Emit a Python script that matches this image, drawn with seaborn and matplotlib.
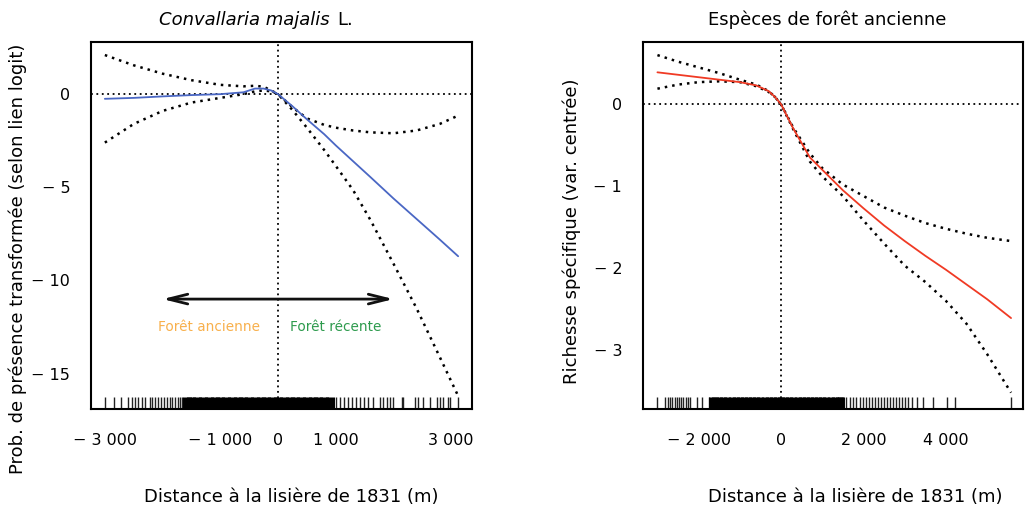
import numpy as np
import pandas as pd
import seaborn as sns
import matplotlib.pyplot as plt

# left panel: Convallaria majalis, smooth effect of distance to the 1831 edge
left_x = [-3000, -2500, -2000, -1500, -1000, -600, -400, -250, -120, 0,
          250, 500, 800, 1000, 1300, 1600, 2000, 2400, 2800, 3120]
left_fit = [-0.25, -0.2, -0.12, -0.05, 0.0, 0.1, 0.3, 0.3, 0.2, 0.0,
            -0.65, -1.35, -2.15, -2.75, -3.6, -4.45, -5.6, -6.7, -7.8, -8.7]
left_upper = [2.1, 1.55, 1.1, 0.75, 0.5, 0.42, 0.45, 0.4, 0.2, 0.0,
              -0.7, -1.3, -1.65, -1.8, -1.95, -2.05, -2.1, -1.95, -1.6, -1.15]
left_lower = [-2.6, -1.6, -0.9, -0.45, -0.2, 0.0, 0.15, 0.2, 0.15, 0.0,
              -0.85, -1.8, -3.0, -3.85, -5.15, -6.75, -9.1, -11.5, -14.1, -16.2]

# right panel: old-forest species richness
right_x = [-3000, -2500, -2000, -1500, -1000, -600, -300, -150, 0, 300, 700,
           1000, 1500, 2000, 2500, 3000, 3500, 4000, 4500, 5000, 5580]
right_fit = [0.39, 0.36, 0.33, 0.3, 0.27, 0.23, 0.16, 0.09, 0.0, -0.3, -0.65,
             -0.8, -1.05, -1.27, -1.48, -1.67, -1.85, -2.02, -2.2, -2.38, -2.61]
right_upper = [0.6, 0.52, 0.45, 0.38, 0.3, 0.24, 0.16, 0.09, 0.0, -0.29, -0.6,
               -0.78, -0.98, -1.12, -1.26, -1.36, -1.45, -1.52, -1.58, -1.63, -1.67]
right_lower = [0.19, 0.24, 0.27, 0.28, 0.27, 0.22, 0.15, 0.09, 0.0, -0.31, -0.7,
               -0.88, -1.12, -1.42, -1.7, -1.97, -2.17, -2.4, -2.68, -3.05, -3.52]

# rug of observed distances (sparse part + dense core)
left_rug = [-3000, -2842, -2721, -2600, -2530, -2478, -2426, -2357, -2305,
            -2218, -2184, -2132, -2080, -2028, -1976, -1924, -1872, -1837,
            -1785, -1733, -1698, -1660, 1005, 1075, 1144, 1213, 1282, 1352,
            1421, 1490, 1560, 1646, 1768, 1820, 1889, 1941, 1993, 2149, 2166,
            2374, 2426, 2513, 2634, 2756, 2808, 2860, 2946, 2981, 3120]
left_rug_core = [-1580, -1500, -1400, -1300, -1200, -1100, -1000, -900, -800,
                 -700, -600, -500, -400, -300, -200, -100, 0, 100, 200, 300,
                 400, 500, 600, 700, 800, 900]
right_rug = [-3010, -2816, -2743, -2694, -2646, -2573, -2524, -2476, -2427,
             -2379, -2306, -2257, -2209, -2039, -1917, -1748, 1505, 1578, 1675,
             1748, 1820, 1917, 1990, 2063, 2136, 2209, 2282, 2354, 2427, 2500,
             2573, 2646, 2718, 2791, 2864, 2937, 3010, 3083, 3180, 3301, 3447,
             3689, 4029, 4223, 5583]
right_rug_core = [-1680, -1600, -1500, -1400, -1300, -1200, -1100, -1000, -900,
                  -800, -700, -600, -500, -400, -300, -200, -100, 0, 100, 200,
                  300, 400, 500, 600, 700, 800, 900, 1000, 1100, 1200, 1300,
                  1400, 1450]

left_xticks = [-3000, -2000, -1000, 0, 1000, 2000, 3000]
left_xlabels = ["− 3 000", "", "− 1 000", "0", "1 000", "", "3 000"]
left_yticks = [0, -5, -10, -15]
left_ylabels = ["0", "− 5", "− 10", "− 15"]
right_xticks = [-2000, 0, 2000, 4000]
right_xlabels = ["− 2 000", "0", "2 000", "4 000"]
right_yticks = [0, -1, -2, -3]
right_ylabels = ["0", "− 1", "− 2", "− 3"]

sns.set_style("white")
plt.rcParams["font.family"] = ["DejaVu Sans"]
plt.rcParams["text.color"] = "black"

W, H = 1026, 507
fig = plt.figure(figsize=(W / 100, H / 100), dpi=100)
ax1 = fig.add_axes([91 / W, 1 - 409 / H, 381 / W, 367 / H])
ax2 = fig.add_axes([643 / W, 1 - 409 / H, 380 / W, 367 / H])

dot = (0, (1, 2))


def draw_panel(ax, x, fit, up, lo, color, rug, core, core_lw):
    df = pd.DataFrame({"x": x, "fit": fit, "up": up, "lo": lo})
    ax.axhline(0, color="black", lw=1.3, ls=dot, zorder=1)
    ax.axvline(0, color="black", lw=1.3, ls=dot, zorder=1)
    sns.lineplot(data=df, x="x", y="up", ax=ax, color="black", lw=1.8,
                 linestyle=dot, sort=False)
    sns.lineplot(data=df, x="x", y="lo", ax=ax, color="black", lw=1.8,
                 linestyle=dot, sort=False)
    sns.lineplot(data=df, x="x", y="fit", ax=ax, color=color, lw=1.3, sort=False)
    sns.rugplot(x=rug, ax=ax, height=0.034, color="#222222", linewidth=1.0,
                expand_margins=False)
    sns.rugplot(x=core, ax=ax, height=0.034, color="black", linewidth=core_lw,
                expand_margins=False)
    for s in ax.spines.values():
        s.set_visible(True)
        s.set_color("black")
        s.set_linewidth(1.5)
    ax.tick_params(direction="out", length=10, width=1.5, colors="black",
                   labelsize=11.5, pad=5)
    ax.tick_params(axis="x", pad=7)
    ax.set_xlabel("")
    ax.set_ylabel("")


draw_panel(ax1, left_x, left_fit, left_upper, left_lower, "#4a67c4",
           left_rug, left_rug_core, 6.5)
ax1.set_xlim(-3240, 3360)
ax1.set_ylim(-16.9, 2.8)
ax1.set_xticks(left_xticks, left_xlabels)
ax1.set_yticks(left_yticks, left_ylabels)

ax1.annotate("", xy=(-2000, -11), xytext=(2000, -11),
             arrowprops=dict(arrowstyle="<->,head_length=1.4,head_width=0.35",
                             lw=2, color="#111111", shrinkA=0, shrinkB=0))
ax1.text(-1200, -12.5, "Forêt ancienne", color="#f8b04c", fontsize=9.8,
         ha="center", va="center")
ax1.text(1000, -12.5, "Forêt récente", color="#2e9b4e", fontsize=9.8,
         ha="center", va="center")

draw_panel(ax2, right_x, right_fit, right_upper, right_lower, "#f03a24",
           right_rug, right_rug_core, 5)
ax2.set_xlim(-3350, 5870)
ax2.set_ylim(-3.72, 0.76)
ax2.set_xticks(right_xticks, right_xlabels)
ax2.set_yticks(right_yticks, right_ylabels)

# titles and axis labels placed as in the original figure
fig.text(330 / W, 1 - 20 / H, "Convallaria majalis", style="italic",
         fontsize=13, ha="right", va="center")
fig.text(337 / W, 1 - 20 / H, "L.", fontsize=13, ha="left", va="center")
fig.text(827 / W, 1 - 20 / H, "Espèces de forêt ancienne", fontsize=13,
         ha="center", va="center")
fig.text(291 / W, 1 - 497 / H, "Distance à la lisière de 1831 (m)",
         fontsize=13, ha="center", va="center")
fig.text(855 / W, 1 - 497 / H, "Distance à la lisière de 1831 (m)",
         fontsize=13, ha="center", va="center")
fig.text(18 / W, 1 - 259 / H, "Prob. de présence transformée (selon lien logit)",
         fontsize=13, rotation=90, ha="center", va="center")
fig.text(572 / W, 1 - 231 / H, "Richesse spécifique (var. centrée)",
         fontsize=13, rotation=90, ha="center", va="center")

fig.savefig("out.png", dpi=100)
